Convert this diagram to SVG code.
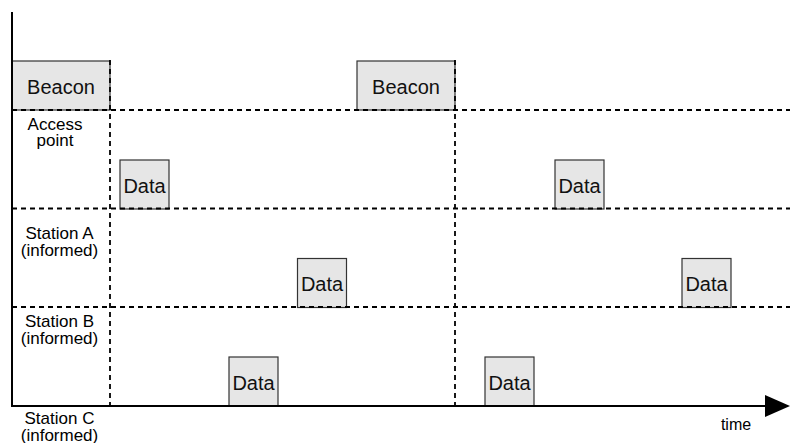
<svg xmlns="http://www.w3.org/2000/svg" width="790" height="443" viewBox="0 0 790 443">
  <style>
    .lbl { font-family: "Liberation Sans", Arial, sans-serif; font-size: 17px; fill: #000; text-anchor: middle; }
    .box { fill: #e6e6e6; stroke: #333; stroke-width: 1.2; }
    .boxtxt { font-family: "Liberation Sans", Arial, sans-serif; font-size: 20px; fill: #111; text-anchor: middle; }
    .dash { stroke: #000; stroke-width: 1.8; stroke-dasharray: 5 4; fill: none; }
    .axis { stroke: #000; stroke-width: 2; fill: none; }
  </style>
  <rect width="790" height="443" fill="#fff"/>

  <!-- frames (beacon, data) -->
  <g id="beacon1"><rect class="box" x="12" y="61" width="98" height="49"/><text class="boxtxt" x="61" y="94">Beacon</text></g>
  <g id="beacon2"><rect class="box" x="357" y="61" width="98" height="49"/><text class="boxtxt" x="406" y="94">Beacon</text></g>
  <g id="data-ap-1"><rect class="box" x="120" y="160" width="49" height="49"/><text class="boxtxt" x="144.5" y="193">Data</text></g>
  <g id="data-ap-2"><rect class="box" x="555" y="160" width="49" height="49"/><text class="boxtxt" x="579.5" y="193">Data</text></g>
  <g id="data-a-1"><rect class="box" x="297.5" y="258.5" width="49" height="49"/><text class="boxtxt" x="322" y="291">Data</text></g>
  <g id="data-a-2"><rect class="box" x="682" y="258.5" width="49" height="49"/><text class="boxtxt" x="706.5" y="291">Data</text></g>
  <g id="data-b-1"><rect class="box" x="229" y="357" width="49" height="49"/><text class="boxtxt" x="253.5" y="390">Data</text></g>
  <g id="data-b-2"><rect class="box" x="485" y="357" width="49" height="49"/><text class="boxtxt" x="509.5" y="390">Data</text></g>

  <!-- grid and axes -->
  <g id="connectors">
    <line class="dash" x1="12" y1="110" x2="790" y2="110"/>
    <line class="dash" x1="12" y1="208.5" x2="790" y2="208.5"/>
    <line class="dash" x1="12" y1="307" x2="790" y2="307"/>
    <line class="dash" x1="110" y1="60" x2="110" y2="406"/>
    <line class="dash" x1="455" y1="60" x2="455" y2="406"/>
    <line class="axis" x1="12" y1="12" x2="12" y2="406"/>
    <line class="axis" x1="11" y1="406" x2="768" y2="406"/>
    <polygon points="765,395 790,406 765,417" fill="#000"/>
  </g>

  <!-- lane labels -->
  <g id="labels">
    <text class="lbl" x="55" y="130">Access</text>
    <text class="lbl" x="55" y="146">point</text>
    <text class="lbl" x="59.5" y="239">Station A</text>
    <text class="lbl" x="59.5" y="256">(informed)</text>
    <text class="lbl" x="59.5" y="327">Station B</text>
    <text class="lbl" x="59.5" y="344">(informed)</text>
    <text class="lbl" x="59.5" y="424">Station C</text>
    <text class="lbl" x="59.5" y="441">(informed)</text>
    <text class="lbl" x="736" y="430" style="font-size:16px">time</text>
  </g>
</svg>
